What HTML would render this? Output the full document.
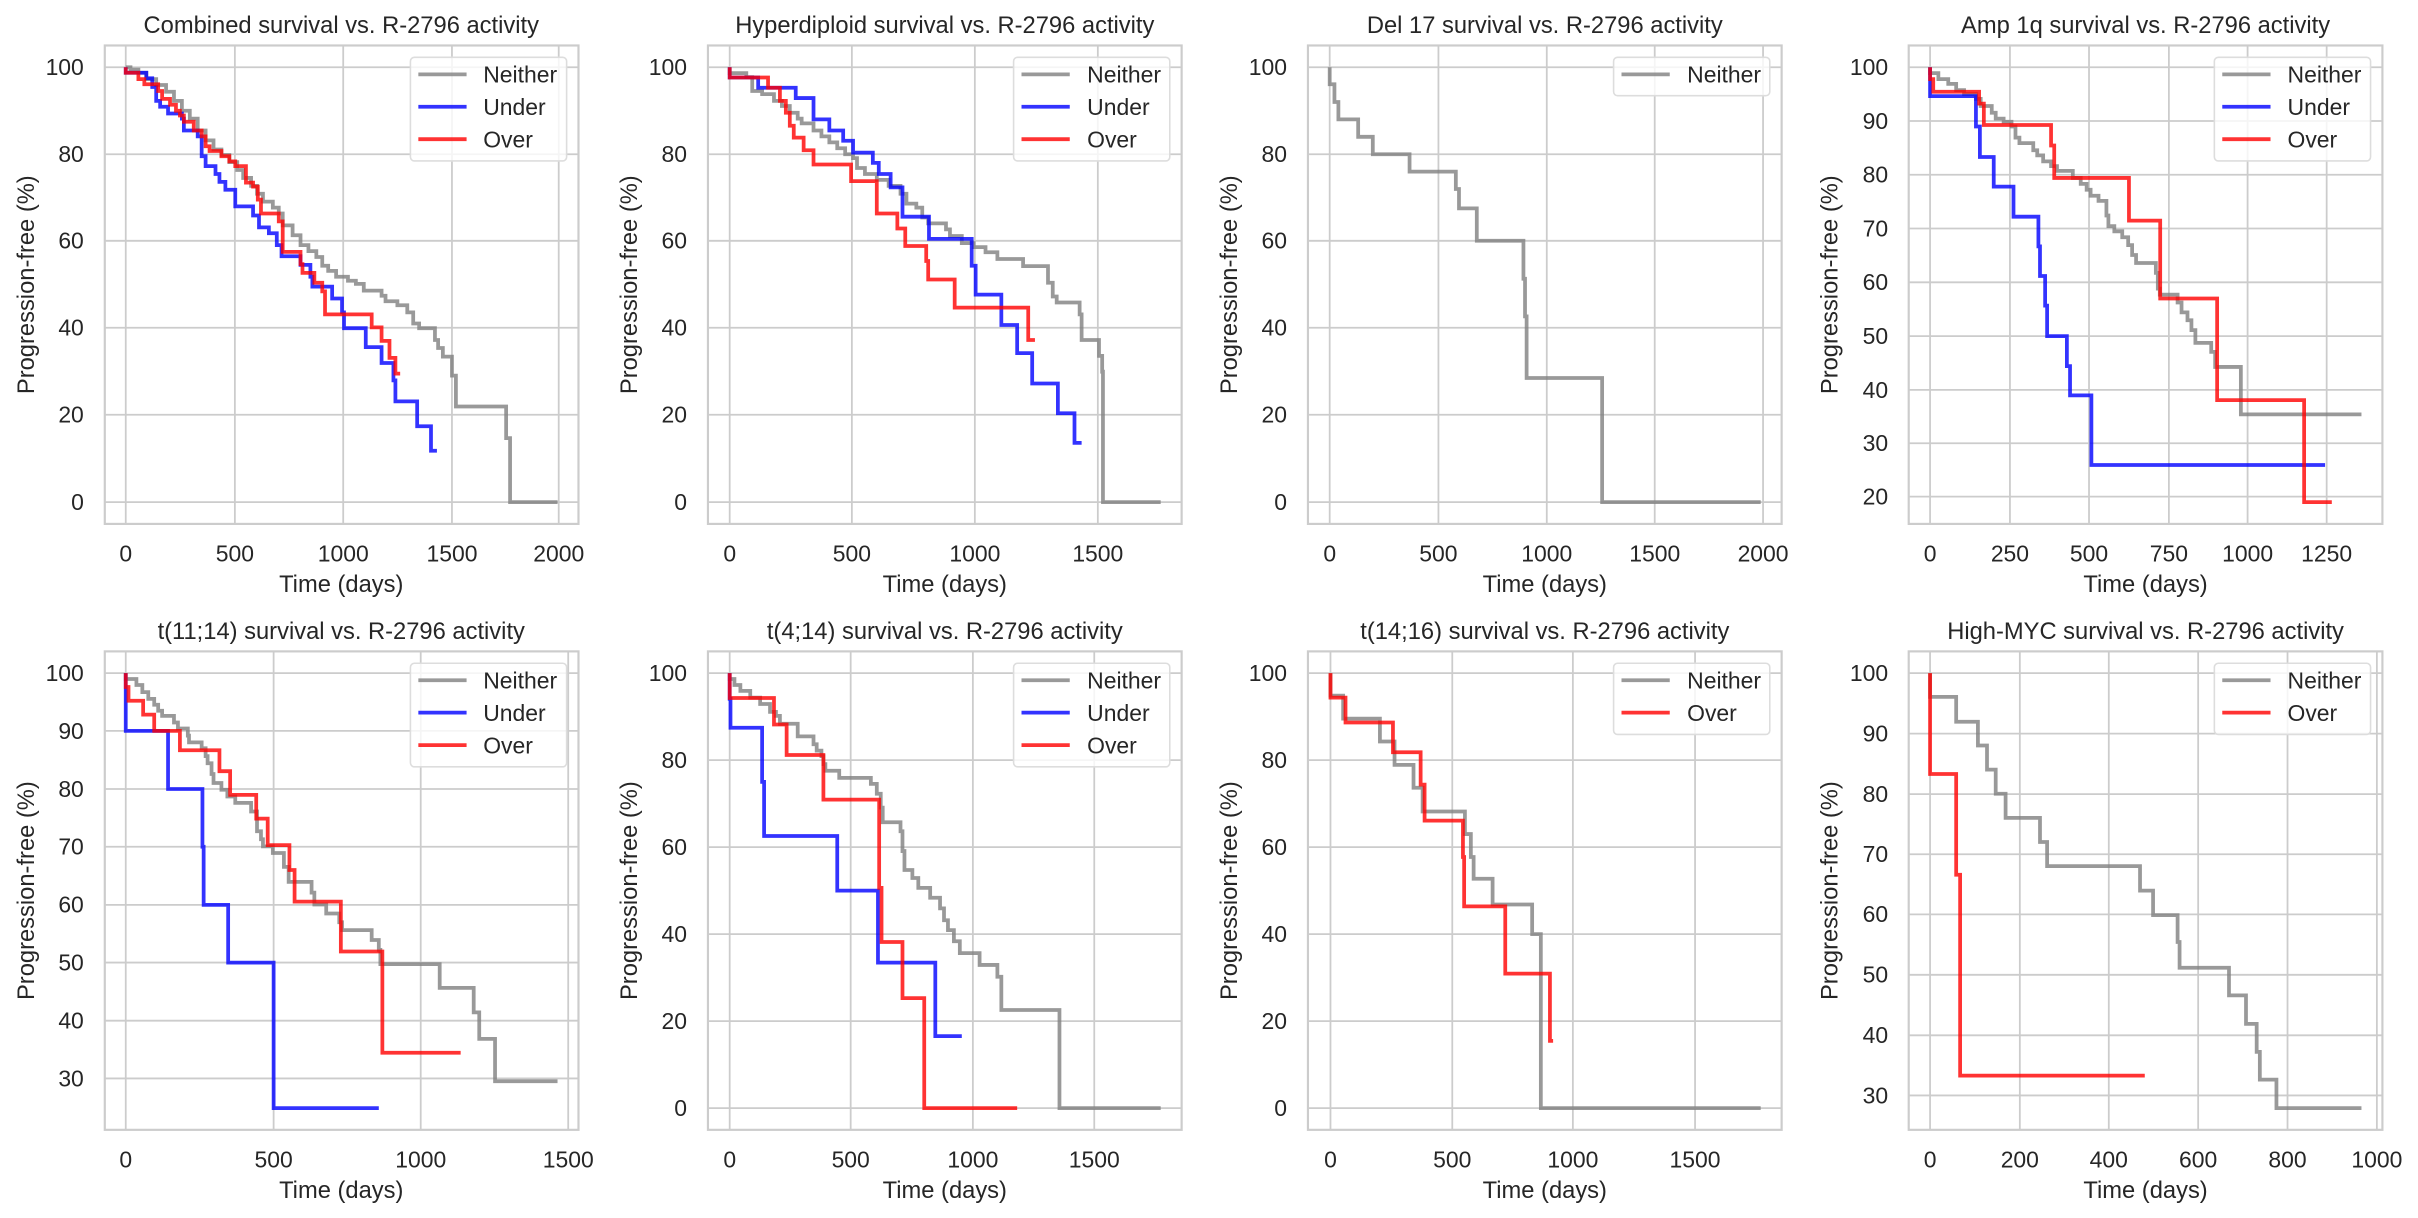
<!DOCTYPE html>
<html><head><meta charset="utf-8"><style>
html,body{margin:0;padding:0;background:#fff}
svg{display:block}
text{font-family:"Liberation Sans",Arial,sans-serif;fill:#262626}
.g{stroke:#cccccc;stroke-width:4.5;fill:none}
.f{stroke:#cccccc;stroke-width:5.5;fill:none}
.t{font-size:58px}
.n{stroke:#808080;stroke-opacity:.8;stroke-width:9.5;fill:none}
.b{stroke:#0000ff;stroke-opacity:.8;stroke-width:9.5;fill:none}
.r{stroke:#ff0000;stroke-opacity:.8;stroke-width:9.5;fill:none}
.lg{fill:#fff;fill-opacity:.8;stroke:#dddddd;stroke-width:4}
</style></head><body>
<svg width="2418" height="1218" viewBox="0 0 2418 1218" xmlns="http://www.w3.org/2000/svg">
<rect width="2418" height="1218" fill="#fff"/>

<!-- P1 -->
<g transform="translate(0,0) scale(0.39541)">
<path class="g" d="M318 115V1325M594 115V1325M868 115V1325M1143 115V1325M1413 115V1325M265 170H1463M265 390H1463M265 609H1463M265 829H1463M265 1049H1463M265 1270H1463"/>
<rect class="f" x="265" y="115" width="1198" height="1210"/>
<g class="t" text-anchor="end"><text x="212" y="190">100</text><text x="212" y="410">80</text><text x="212" y="629">60</text><text x="212" y="849">40</text><text x="212" y="1069">20</text><text x="212" y="1290">0</text></g>
<g class="t" text-anchor="middle"><text x="318" y="1420">0</text><text x="594" y="1420">500</text><text x="868" y="1420">1000</text><text x="1143" y="1420">1500</text><text x="1413" y="1420">2000</text>
<text x="863" y="1497" font-size="60">Time (days)</text><text x="863" y="84" font-size="60">Combined survival vs. R-2796 activity</text>
<text transform="translate(86,720) rotate(-90)" font-size="60">Progression-free (%)</text></g>
<path class="n" d="M318 170 H330 V176 H350 V184 H370 V200 H395 V215 H420 V232 H440 V255 H460 V280 H480 V300 H500 V330 H520 V355 H540 V378 H560 V392 H580 V410 H600 V430 H615 V450 H635 V470 H650 V490 H665 V510 H690 V525 H705 V540 H715 V570 H740 V595 H760 V620 H780 V635 H800 V650 H815 V672 H830 V685 H850 V700 H880 V710 H900 V718 H920 V735 H965 V748 H975 V762 H1005 V772 H1030 V790 H1045 V818 H1060 V830 H1100 V860 H1108 V880 H1120 V902 H1143 V950 H1153 V1028 H1280 V1108 H1290 V1270 H1410"/>
<path class="b" d="M318 170 V184 H370 V198 H385 V220 H395 V255 H405 V270 H425 V287 H460 V300 H465 V330 H500 V345 H510 V395 H520 V420 H545 V440 H555 V460 H570 V480 H595 V522 H640 V545 H655 V575 H680 V590 H700 V620 H712 V648 H760 V670 H785 V700 H790 V725 H840 V755 H865 V790 H870 V830 H925 V878 H965 V918 H995 V962 H1000 V1015 H1055 V1078 H1090 V1140 H1105"/>
<path class="r" d="M318 170 V184 H350 V200 H365 V213 H400 V230 H410 V250 H430 V265 H445 V280 H455 V292 H465 V308 H490 V330 H510 V345 H520 V370 H530 V382 H560 V395 H580 V408 H595 V420 H622 V462 H640 V472 H652 V505 H660 V540 H705 V560 H715 V637 H760 V668 H765 V690 H795 V715 H815 V737 H822 V795 H940 V828 H965 V862 H985 V905 H1000 V945 H1012"/>
<rect class="lg" x="1038" y="145" width="395" height="262" rx="10"/>
<path class="n" d="M1058 188H1180"/><path class="b" d="M1058 270H1180"/><path class="r" d="M1058 352H1180"/>
<g class="t"><text x="1222" y="209">Neither</text><text x="1222" y="291">Under</text><text x="1222" y="373">Over</text></g>
</g>

<!-- P2 -->
<g transform="translate(600,0) scale(0.39541)">
<path class="g" d="M328 115V1325M637 115V1325M948 115V1325M1259 115V1325M273 170H1471M273 390H1471M273 609H1471M273 829H1471M273 1049H1471M273 1270H1471"/>
<rect class="f" x="273" y="115" width="1198" height="1210"/>
<g class="t" text-anchor="end"><text x="220" y="190">100</text><text x="220" y="410">80</text><text x="220" y="629">60</text><text x="220" y="849">40</text><text x="220" y="1069">20</text><text x="220" y="1290">0</text></g>
<g class="t" text-anchor="middle"><text x="328" y="1420">0</text><text x="637" y="1420">500</text><text x="948" y="1420">1000</text><text x="1259" y="1420">1500</text>
<text x="872" y="1497" font-size="60">Time (days)</text><text x="872" y="84" font-size="60">Hyperdiploid survival vs. R-2796 activity</text>
<text transform="translate(94,720) rotate(-90)" font-size="60">Progression-free (%)</text></g>
<path class="n" d="M328 170 V185 H370 V195 H385 V230 H410 V238 H440 V255 H460 V268 H480 V285 H500 V300 H510 V312 H540 V330 H560 V345 H580 V360 H600 V375 H620 V390 H640 V400 H650 V425 H670 V440 H700 V455 H730 V470 H760 V490 H775 V515 H800 V525 H815 V550 H830 V565 H875 V580 H885 V597 H915 V615 H945 V625 H975 V638 H1005 V655 H1070 V673 H1133 V715 H1145 V750 H1155 V765 H1213 V795 H1218 V860 H1262 V900 H1270 V940 H1272 V1270 H1418"/>
<path class="b" d="M328 170 V196 H400 V222 H495 V248 H540 V302 H580 V330 H615 V356 H640 V386 H690 V412 H705 V440 H735 V474 H765 V548 H832 V604 H940 V672 H950 V745 H1015 V822 H1055 V893 H1093 V970 H1158 V1045 H1200 V1120 H1218"/>
<path class="r" d="M328 170 V196 H425 V222 H455 V255 H470 V285 H480 V318 H490 V348 H515 V380 H540 V416 H635 V458 H700 V540 H752 V578 H772 V622 H825 V660 H830 V707 H897 V778 H1083 V860 H1100"/>
<rect class="lg" x="1046" y="145" width="395" height="262" rx="10"/>
<path class="n" d="M1066 188H1188"/><path class="b" d="M1066 270H1188"/><path class="r" d="M1066 352H1188"/>
<g class="t"><text x="1232" y="209">Neither</text><text x="1232" y="291">Under</text><text x="1232" y="373">Over</text></g>
</g>

<!-- P3 -->
<g transform="translate(1200,0) scale(0.39541)">
<path class="g" d="M328 115V1325M603 115V1325M877 115V1325M1150 115V1325M1424 115V1325M273 170H1471M273 390H1471M273 609H1471M273 829H1471M273 1049H1471M273 1270H1471"/>
<rect class="f" x="273" y="115" width="1198" height="1210"/>
<g class="t" text-anchor="end"><text x="220" y="190">100</text><text x="220" y="410">80</text><text x="220" y="629">60</text><text x="220" y="849">40</text><text x="220" y="1069">20</text><text x="220" y="1290">0</text></g>
<g class="t" text-anchor="middle"><text x="328" y="1420">0</text><text x="603" y="1420">500</text><text x="877" y="1420">1000</text><text x="1150" y="1420">1500</text><text x="1424" y="1420">2000</text>
<text x="872" y="1497" font-size="60">Time (days)</text><text x="872" y="84" font-size="60">Del 17 survival vs. R-2796 activity</text>
<text transform="translate(94,720) rotate(-90)" font-size="60">Progression-free (%)</text></g>
<path class="n" d="M328 170 V213 H340 V258 H350 V302 H400 V346 H437 V390 H530 V434 H647 V478 H655 V527 H700 V609 H818 V705 H822 V800 H826 V956 H1017 V1270 H1418"/>
<rect class="lg" x="1046" y="145" width="395" height="97" rx="10"/>
<path class="n" d="M1066 188H1188"/>
<g class="t"><text x="1232" y="209">Neither</text></g>
</g>

<!-- P4 -->
<g transform="translate(1798,0) scale(0.39541)">
<path class="g" d="M334 115V1325M536 115V1325M736 115V1325M938 115V1325M1137 115V1325M1337 115V1325M280 170H1478M280 306H1478M280 442H1478M280 578H1478M280 714H1478M280 850H1478M280 986H1478M280 1121H1478M280 1256H1478"/>
<rect class="f" x="280" y="115" width="1198" height="1210"/>
<g class="t" text-anchor="end"><text x="228" y="190">100</text><text x="228" y="326">90</text><text x="228" y="462">80</text><text x="228" y="598">70</text><text x="228" y="734">60</text><text x="228" y="870">50</text><text x="228" y="1006">40</text><text x="228" y="1141">30</text><text x="228" y="1276">20</text></g>
<g class="t" text-anchor="middle"><text x="334" y="1420">0</text><text x="536" y="1420">250</text><text x="736" y="1420">500</text><text x="938" y="1420">750</text><text x="1137" y="1420">1000</text><text x="1337" y="1420">1250</text>
<text x="879" y="1497" font-size="60">Time (days)</text><text x="879" y="84" font-size="60">Amp 1q survival vs. R-2796 activity</text>
<text transform="translate(100,720) rotate(-90)" font-size="60">Progression-free (%)</text></g>
<path class="n" d="M334 170 V185 H355 V200 H380 V212 H400 V228 H420 V238 H450 V250 H462 V268 H490 V285 H500 V300 H520 V308 H540 V320 H550 V348 H560 V362 H595 V380 H605 V393 H620 V408 H640 V420 H655 V432 H695 V450 H715 V465 H730 V480 H740 V495 H760 V508 H780 V545 H785 V572 H800 V585 H820 V600 H835 V620 H845 V645 H855 V665 H905 V690 H910 V730 H915 V745 H960 V765 H970 V790 H985 V810 H995 V835 H1005 V867 H1045 V890 H1055 V928 H1120 V1048 H1425"/>
<path class="b" d="M334 170 V243 H450 V320 H460 V397 H495 V472 H545 V548 H608 V623 H612 V698 H625 V773 H630 V850 H680 V926 H688 V1000 H742 V1176 H1333"/>
<path class="r" d="M334 170 V200 H342 V232 H458 V262 H470 V316 H640 V368 H648 V450 H837 V558 H916 V755 H1060 V1012 H1280 V1270 H1350"/>
<rect class="lg" x="1053" y="145" width="395" height="262" rx="10"/>
<path class="n" d="M1073 188H1195"/><path class="b" d="M1073 270H1195"/><path class="r" d="M1073 352H1195"/>
<g class="t"><text x="1238" y="209">Neither</text><text x="1238" y="291">Under</text><text x="1238" y="373">Over</text></g>
</g>

<!-- P5 -->
<g transform="translate(0,598) scale(0.39541)">
<path class="g" d="M318 135V1345M692 135V1345M1064 135V1345M1437 135V1345M265 190H1463M265 336H1463M265 483H1463M265 629H1463M265 776H1463M265 922H1463M265 1069H1463M265 1215H1463"/>
<rect class="f" x="265" y="135" width="1198" height="1210"/>
<g class="t" text-anchor="end"><text x="212" y="210">100</text><text x="212" y="356">90</text><text x="212" y="503">80</text><text x="212" y="649">70</text><text x="212" y="796">60</text><text x="212" y="942">50</text><text x="212" y="1089">40</text><text x="212" y="1235">30</text></g>
<g class="t" text-anchor="middle"><text x="318" y="1440">0</text><text x="692" y="1440">500</text><text x="1064" y="1440">1000</text><text x="1437" y="1440">1500</text>
<text x="863" y="1517" font-size="60">Time (days)</text><text x="863" y="104" font-size="60">t(11;14) survival vs. R-2796 activity</text>
<text transform="translate(86,740) rotate(-90)" font-size="60">Progression-free (%)</text></g>
<path class="n" d="M318 190 V205 H345 V220 H360 V238 H375 V255 H390 V270 H400 V285 H410 V298 H440 V315 H450 V330 H475 V348 H478 V365 H510 V380 H520 V400 H525 V418 H535 V445 H540 V468 H560 V485 H575 V502 H595 V518 H635 V540 H650 V590 H660 V610 H665 V628 H690 V645 H718 V680 H730 V718 H788 V745 H795 V775 H825 V798 H858 V820 H865 V840 H940 V865 H958 V890 H962 V926 H1112 V986 H1198 V1048 H1212 V1115 H1252 V1222 H1410"/>
<path class="b" d="M318 190 V336 H425 V483 H512 V629 H515 V776 H577 V922 H692 V1290 H958"/>
<path class="r" d="M318 190 V225 H325 V260 H362 V295 H390 V336 H455 V385 H555 V438 H582 V498 H648 V558 H677 V625 H732 V688 H745 V768 H862 V894 H967 V1150 H1165"/>
<rect class="lg" x="1038" y="165" width="395" height="262" rx="10"/>
<path class="n" d="M1058 208H1180"/><path class="b" d="M1058 290H1180"/><path class="r" d="M1058 372H1180"/>
<g class="t"><text x="1222" y="229">Neither</text><text x="1222" y="311">Under</text><text x="1222" y="393">Over</text></g>
</g>

<!-- P6 -->
<g transform="translate(600,598) scale(0.39541)">
<path class="g" d="M328 135V1345M634 135V1345M943 135V1345M1250 135V1345M273 190H1471M273 410H1471M273 630H1471M273 850H1471M273 1070H1471M273 1290H1471"/>
<rect class="f" x="273" y="135" width="1198" height="1210"/>
<g class="t" text-anchor="end"><text x="220" y="210">100</text><text x="220" y="430">80</text><text x="220" y="650">60</text><text x="220" y="870">40</text><text x="220" y="1090">20</text><text x="220" y="1310">0</text></g>
<g class="t" text-anchor="middle"><text x="328" y="1440">0</text><text x="634" y="1440">500</text><text x="943" y="1440">1000</text><text x="1250" y="1440">1500</text>
<text x="872" y="1517" font-size="60">Time (days)</text><text x="872" y="104" font-size="60">t(4;14) survival vs. R-2796 activity</text>
<text transform="translate(94,740) rotate(-90)" font-size="60">Progression-free (%)</text></g>
<path class="n" d="M328 190 V205 H340 V220 H355 V235 H380 V252 H405 V268 H430 V288 H445 V298 H455 V318 H500 V350 H540 V370 H548 V386 H560 V400 H565 V420 H570 V437 H605 V455 H685 V470 H700 V495 H710 V530 H715 V567 H760 V590 H765 V640 H770 V688 H790 V708 H805 V733 H835 V758 H860 V785 H870 V815 H880 V840 H895 V868 H910 V898 H960 V928 H1005 V958 H1015 V1042 H1162 V1290 H1418"/>
<path class="b" d="M328 190 V255 H330 V328 H410 V465 H415 V602 H600 V740 H703 V922 H848 V1108 H915"/>
<path class="r" d="M328 190 V253 H440 V320 H472 V397 H565 V510 H706 V733 H712 V870 H765 V1012 H820 V1290 H1055"/>
<rect class="lg" x="1046" y="165" width="395" height="262" rx="10"/>
<path class="n" d="M1066 208H1188"/><path class="b" d="M1066 290H1188"/><path class="r" d="M1066 372H1188"/>
<g class="t"><text x="1232" y="229">Neither</text><text x="1232" y="311">Under</text><text x="1232" y="393">Over</text></g>
</g>

<!-- P7 -->
<g transform="translate(1200,598) scale(0.39541)">
<path class="g" d="M330 135V1345M638 135V1345M943 135V1345M1252 135V1345M273 190H1471M273 410H1471M273 630H1471M273 850H1471M273 1070H1471M273 1290H1471"/>
<rect class="f" x="273" y="135" width="1198" height="1210"/>
<g class="t" text-anchor="end"><text x="220" y="210">100</text><text x="220" y="430">80</text><text x="220" y="650">60</text><text x="220" y="870">40</text><text x="220" y="1090">20</text><text x="220" y="1310">0</text></g>
<g class="t" text-anchor="middle"><text x="330" y="1440">0</text><text x="638" y="1440">500</text><text x="943" y="1440">1000</text><text x="1252" y="1440">1500</text>
<text x="872" y="1517" font-size="60">Time (days)</text><text x="872" y="104" font-size="60">t(14;16) survival vs. R-2796 activity</text>
<text transform="translate(94,740) rotate(-90)" font-size="60">Progression-free (%)</text></g>
<path class="n" d="M330 190 V247 H362 V305 H455 V363 H492 V422 H540 V480 H563 V540 H670 V597 H685 V655 H692 V710 H740 V775 H840 V850 H862 V1290 H1418"/>
<path class="r" d="M330 190 V252 H368 V315 H488 V390 H558 V472 H568 V563 H665 V655 H668 V780 H772 V950 H885 V1120 H893"/>
<rect class="lg" x="1046" y="165" width="395" height="180" rx="10"/>
<path class="n" d="M1066 208H1188"/><path class="r" d="M1066 290H1188"/>
<g class="t"><text x="1232" y="229">Neither</text><text x="1232" y="311">Over</text></g>
</g>

<!-- P8 -->
<g transform="translate(1798,598) scale(0.39541)">
<path class="g" d="M334 135V1345M561 135V1345M786 135V1345M1012 135V1345M1238 135V1345M1464 135V1345M280 190H1478M280 343H1478M280 496H1478M280 648H1478M280 800H1478M280 953H1478M280 1106H1478M280 1258H1478"/>
<rect class="f" x="280" y="135" width="1198" height="1210"/>
<g class="t" text-anchor="end"><text x="228" y="210">100</text><text x="228" y="363">90</text><text x="228" y="516">80</text><text x="228" y="668">70</text><text x="228" y="820">60</text><text x="228" y="973">50</text><text x="228" y="1126">40</text><text x="228" y="1278">30</text></g>
<g class="t" text-anchor="middle"><text x="334" y="1440">0</text><text x="561" y="1440">200</text><text x="786" y="1440">400</text><text x="1012" y="1440">600</text><text x="1238" y="1440">800</text><text x="1464" y="1440">1000</text>
<text x="879" y="1517" font-size="60">Time (days)</text><text x="879" y="104" font-size="60">High-MYC survival vs. R-2796 activity</text>
<text transform="translate(100,740) rotate(-90)" font-size="60">Progression-free (%)</text></g>
<path class="n" d="M334 190 V250 H400 V313 H455 V373 H478 V434 H500 V495 H525 V556 H612 V617 H630 V678 H865 V740 H898 V802 H960 V870 H965 V935 H1090 V1005 H1133 V1077 H1160 V1148 H1168 V1218 H1210 V1290 H1425"/>
<path class="r" d="M334 190 V445 H400 V700 H410 V1208 H877"/>
<rect class="lg" x="1053" y="165" width="395" height="180" rx="10"/>
<path class="n" d="M1073 208H1195"/><path class="r" d="M1073 290H1195"/>
<g class="t"><text x="1238" y="229">Neither</text><text x="1238" y="311">Over</text></g>
</g>
</svg>
</body></html>
